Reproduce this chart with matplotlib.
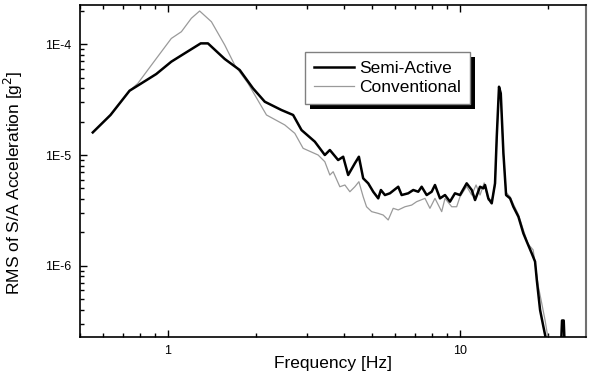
import matplotlib
matplotlib.use("Agg")
import matplotlib.pyplot as plt
from matplotlib.ticker import FixedLocator, LogLocator, FuncFormatter, NullFormatter
from matplotlib.patches import Rectangle

plt.rcParams['font.family'] = ['Liberation Sans', 'DejaVu Sans']

semi_freq = [0.553, 0.636, 0.739, 0.811, 0.912, 1.027, 1.141, 1.295, 1.371, 1.565,
             1.761, 1.956, 2.146, 2.447, 2.683, 2.867, 3.184, 3.445, 3.584, 3.826,
             3.981, 4.141, 4.365, 4.506, 4.661, 4.850, 5.045, 5.248, 5.360, 5.533,
             5.754, 6.145, 6.312, 6.648, 6.918, 7.195, 7.391, 7.689, 7.998, 8.209,
             8.54, 8.884, 9.24, 9.61, 10.0, 10.54, 10.97, 11.26, 11.71, 12.02,
             12.18, 12.50, 12.84, 13.18, 13.36, 13.6, 13.79, 14.08, 14.38, 14.84,
             15.23, 15.85, 16.48, 16.93, 17.61, 18.07, 18.32, 18.80, 19.30, 19.72,
             20.5, 21.5, 22.1, 22.35, 22.65, 22.9, 24.0, 27.0]
semi_rms = [1.60e-5, 2.30e-5, 3.81e-5, 4.44e-5, 5.39e-5, 6.97e-5, 8.29e-5, 1.02e-4, 1.02e-4, 7.37e-5,
            5.86e-5, 4.0e-5, 3.03e-5, 2.55e-5, 2.30e-5, 1.68e-5, 1.32e-5, 1.00e-5, 1.11e-5, 9.01e-6,
            9.65e-6, 6.60e-6, 8.41e-6, 9.65e-6, 6.16e-6, 5.55e-6, 4.66e-6, 4.06e-6, 4.83e-6, 4.35e-6,
            4.51e-6, 5.17e-6, 4.35e-6, 4.51e-6, 4.83e-6, 4.66e-6, 5.17e-6, 4.35e-6, 4.66e-6, 5.36e-6,
            4.06e-6, 4.35e-6, 3.79e-6, 4.51e-6, 4.35e-6, 5.55e-6, 4.83e-6, 3.92e-6, 5.17e-6, 5.00e-6,
            5.36e-6, 4.06e-6, 3.66e-6, 5.55e-6, 1.46e-5, 4.14e-5, 3.61e-5, 1.04e-5, 4.35e-6, 4.06e-6,
            3.41e-6, 2.77e-6, 1.96e-6, 1.65e-6, 1.29e-6, 1.09e-6, 7.43e-7, 3.98e-7, 2.81e-7, 2.13e-7,
            1.3e-7, 1.2e-7, 1.5e-7, 3.2e-7, 3.2e-7, 1.5e-7, 1.1e-7, 1.0e-7]

conv_freq = [0.553, 0.636, 0.739, 0.789, 0.843, 0.912, 1.027, 1.112, 1.203, 1.284,
             1.409, 1.565, 1.693, 1.880, 2.175, 2.512, 2.719, 2.903, 3.268, 3.445,
             3.584, 3.679, 3.878, 4.035, 4.197, 4.365, 4.506, 4.661, 4.786, 4.983,
             5.248, 5.458, 5.678, 5.906, 6.145, 6.48, 6.83, 7.105, 7.586, 7.89,
             8.209, 8.656, 8.884, 9.366, 9.74, 10.0, 10.54, 10.97, 11.35, 11.71,
             12.1, 12.5, 12.84, 13.18, 13.36, 13.6, 13.79, 14.08, 14.38, 14.84,
             15.23, 15.85, 16.48, 17.1, 17.8, 18.55, 18.95, 19.56, 20.08, 21.0,
             22.1, 22.4, 22.7, 22.9, 24.0, 27.0]
conv_rms = [1.60e-5, 2.30e-5, 3.81e-5, 4.44e-5, 5.62e-5, 7.43e-5, 1.13e-4, 1.30e-4, 1.72e-4, 2.00e-4,
            1.60e-4, 9.86e-5, 6.50e-5, 4.44e-5, 2.30e-5, 1.87e-5, 1.57e-5, 1.15e-5, 1.00e-5, 8.70e-6,
            6.60e-6, 7.07e-6, 5.17e-6, 5.36e-6, 4.66e-6, 5.17e-6, 5.74e-6, 4.20e-6, 3.41e-6, 3.08e-6,
            2.97e-6, 2.87e-6, 2.59e-6, 3.30e-6, 3.19e-6, 3.41e-6, 3.53e-6, 3.79e-6, 4.06e-6, 3.30e-6,
            4.06e-6, 3.08e-6, 4.06e-6, 3.41e-6, 3.41e-6, 4.2e-6, 5.2e-6, 4.35e-6, 5.36e-6, 4.35e-6,
            5.6e-6, 3.9e-6, 3.9e-6, 5.3e-6, 1.4e-5, 4.0e-5, 3.5e-5, 1.0e-5, 4.6e-6, 4.2e-6,
            3.6e-6, 2.9e-6, 2.1e-6, 1.57e-6, 1.39e-6, 6.46e-7, 4.9e-7, 3.2e-7, 2.1e-7, 1.3e-7,
            1.5e-7, 2.9e-7, 2.9e-7, 1.5e-7, 1.1e-7, 1.0e-7]

x_major = [1, 10]
x_major_labels = ["1", "10"]
y_major = [1e-6, 1e-5, 1e-4]
y_major_labels = ["1E-6", "1E-5", "1E-4"]

fig = plt.figure(figsize=(5.89, 3.78), dpi=100)
ax = fig.add_axes([80/589, 41/378, 506/589, 332.5/378])

ax.plot(conv_freq, conv_rms, color='#9a9a9a', lw=0.9, label='Conventional', zorder=2)
ax.plot(semi_freq, semi_rms, color='black', lw=1.8, label='Semi-Active', zorder=3)

ax.set_xscale('log')
ax.set_yscale('log')
ax.set_xlim(0.5, 27.0)
ax.set_ylim(2.27e-7, 2.29e-4)

ax.xaxis.set_major_locator(FixedLocator(x_major))
ax.xaxis.set_major_formatter(FuncFormatter(lambda v, p: dict(zip(x_major, x_major_labels)).get(round(v), "")))
ax.xaxis.set_minor_locator(LogLocator(base=10, subs=range(2, 10), numticks=20))
ax.xaxis.set_minor_formatter(NullFormatter())
ax.yaxis.set_major_locator(FixedLocator(y_major))
ax.yaxis.set_major_formatter(FuncFormatter(lambda v, p: y_major_labels[min(range(3), key=lambda i: abs(y_major[i]/v - 1))]))
ax.yaxis.set_minor_locator(LogLocator(base=10, subs=range(2, 10), numticks=20))
ax.yaxis.set_minor_formatter(NullFormatter())

ax.tick_params(which='both', direction='in', top=True, right=False, width=1.0)
ax.tick_params(which='major', length=5, labelsize=9, pad=6)
ax.tick_params(which='minor', length=3)
for s in ['left', 'bottom', 'top']:
    ax.spines[s].set_linewidth(1.2)
ax.spines['right'].set_color('#707070')
ax.spines['right'].set_linewidth(1.5)

ax.set_xlabel('Frequency [Hz]', fontsize=12.5, labelpad=-1)
ax.set_ylabel('RMS of S/A Acceleration [g$^2$]', fontsize=12.5)
ax.yaxis.set_label_coords(-0.108, 0.463)

handles, labels = ax.get_legend_handles_labels()
leg = ax.legend(handles[::-1], labels[::-1], loc='upper left', bbox_to_anchor=(0.445, 0.857),
                borderaxespad=0, fontsize=12.5, fancybox=False, frameon=True,
                edgecolor='#808080', framealpha=1, handlelength=2.3, handletextpad=0.3,
                labelspacing=0.22, borderpad=0.5)
leg.get_frame().set_linewidth(1.0)
leg.set_zorder(10)

fig.canvas.draw()
bb = leg.get_frame().get_window_extent()
shadow = Rectangle((bb.x0 + 5, bb.y0 - 5), bb.width, bb.height, transform=None,
                   facecolor='black', edgecolor='none', zorder=9)
ax.add_artist(shadow)
shadow.set_clip_on(False)

fig.savefig('out.png', dpi=100)
